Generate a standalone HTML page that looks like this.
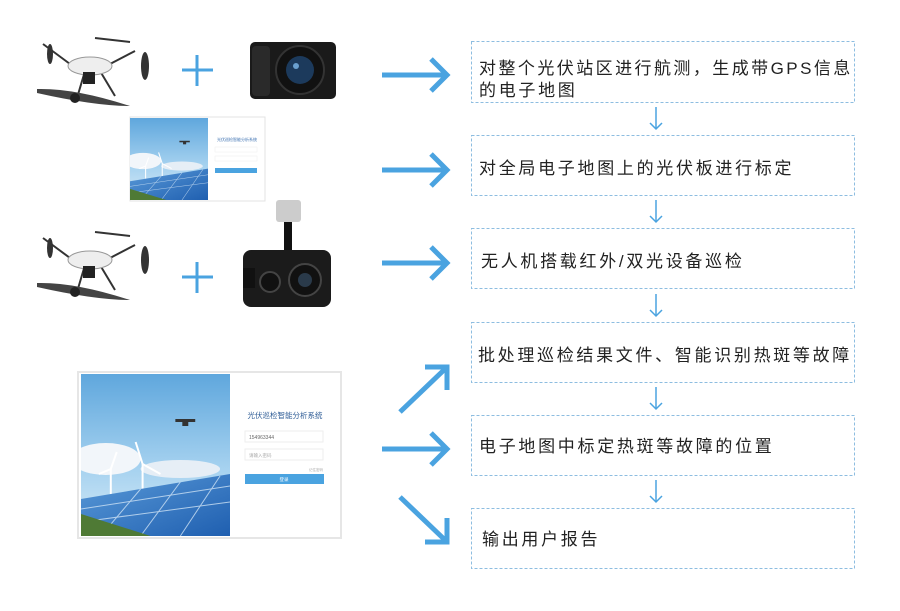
<!DOCTYPE html>
<html><head><meta charset="utf-8"><style>
html,body{margin:0;padding:0;background:#fff;}
svg{display:block;}
.t{font-family:"Liberation Sans","Noto Sans CJK SC",sans-serif;font-size:17px;fill:#222;letter-spacing:2.7px;}
</style></head><body>
<svg width="900" height="611" viewBox="0 0 900 611" xmlns="http://www.w3.org/2000/svg">
<defs>
<linearGradient id="sky" x1="0" y1="0" x2="0" y2="1"><stop offset="0" stop-color="#5fa7dd"/><stop offset="0.6" stop-color="#a8d3f0"/><stop offset="1" stop-color="#d8ebf6"/></linearGradient>
<linearGradient id="pan" x1="0" y1="0" x2="1" y2="1"><stop offset="0" stop-color="#5a9ad8"/><stop offset="1" stop-color="#1f5fb0"/></linearGradient>
<symbol id="photo" viewBox="0 0 150 162" preserveAspectRatio="none">
<rect width="150" height="162" fill="url(#sky)"/>
<ellipse cx="25" cy="85" rx="35" ry="16" fill="#f2f6fa"/>
<ellipse cx="100" cy="95" rx="40" ry="9" fill="#e6eef6"/>
<g stroke="#fff" stroke-width="2"><line x1="30" y1="120" x2="30" y2="95"/><line x1="62" y1="118" x2="62" y2="90"/><line x1="62" y1="90" x2="55" y2="68"/><line x1="62" y1="90" x2="80" y2="100"/><line x1="30" y1="95" x2="18" y2="100"/><line x1="30" y1="95" x2="36" y2="78"/></g>
<polygon points="0,125 150,100 150,162 0,162" fill="url(#pan)"/>
<g stroke="#cfe3f5" stroke-width="1" opacity="0.8"><line x1="0" y1="135" x2="150" y2="112"/><line x1="0" y1="148" x2="150" y2="128"/><line x1="20" y1="162" x2="60" y2="115"/><line x1="60" y1="162" x2="100" y2="108"/><line x1="100" y1="162" x2="140" y2="102"/></g>
<polygon points="0,140 70,162 0,162" fill="#4f7a35"/>
<g fill="#333"><rect x="95" y="45" width="20" height="3"/><rect x="102" y="47" width="6" height="5"/></g>
</symbol>
<symbol id="drone" viewBox="0 0 125 75">
<g stroke="#333" stroke-width="2" fill="none"><line x1="8" y1="8" x2="35" y2="28"/><line x1="100" y1="15" x2="75" y2="28"/><line x1="50" y1="35" x2="42" y2="62"/><line x1="65" y1="35" x2="80" y2="60"/></g>
<ellipse cx="55" cy="30" rx="22" ry="9" fill="#eee" stroke="#999"/>
<rect x="48" y="36" width="12" height="12" fill="#222"/>
<path d="M2 53 Q40 52 95 70 Q60 70 2 57 Z" fill="#444"/>
<line x1="60" y1="2" x2="95" y2="6" stroke="#333" stroke-width="2"/>
<ellipse cx="110" cy="30" rx="4" ry="14" fill="#333"/>
<ellipse cx="15" cy="18" rx="3" ry="10" fill="#333"/>
<circle cx="40" cy="62" r="5" fill="#222"/>
</symbol>
</defs>

<use href="#drone" x="35" y="36" width="125" height="75"/>
<g stroke="#4aa3e0" stroke-width="3"><line x1="182" y1="70" x2="213" y2="70"/><line x1="197" y1="55" x2="197" y2="86"/></g>
<g>
<rect x="250" y="42" width="86" height="57" rx="5" fill="#1a1a1a"/>
<rect x="252" y="46" width="18" height="50" rx="4" fill="#2a2a2a"/>
<circle cx="300" cy="70" r="24" fill="#111" stroke="#333" stroke-width="2"/>
<circle cx="300" cy="70" r="14" fill="#1c3a5c"/>
<circle cx="296" cy="66" r="3" fill="#6aa0d0"/>
</g>
<rect x="130" y="117" width="135" height="84" fill="#fff" stroke="#e3e3e3"/>
<use href="#photo" x="130" y="118" width="78" height="82"/>
<text x="237" y="141" font-size="4" fill="#3a6fb0" text-anchor="middle" font-family="Liberation Sans,Noto Sans CJK SC,sans-serif">光伏巡检智能分析系统</text>
<rect x="215" y="147" width="42" height="5" fill="#fff" stroke="#eee" stroke-width="0.5"/>
<rect x="215" y="156" width="42" height="5" fill="#fff" stroke="#eee" stroke-width="0.5"/>
<rect x="215" y="168" width="42" height="5" fill="#4aa3e0"/>

<use href="#drone" x="35" y="230" width="125" height="75"/>
<g stroke="#4aa3e0" stroke-width="3"><line x1="182" y1="277" x2="213" y2="277"/><line x1="197" y1="262" x2="197" y2="293"/></g>
<g>
<rect x="276" y="200" width="25" height="22" rx="3" fill="#ccc"/>
<rect x="284" y="222" width="8" height="30" fill="#111"/>
<rect x="243" y="250" width="88" height="57" rx="8" fill="#1b1b1b"/>
<rect x="243" y="268" width="12" height="20" fill="#111"/>
<circle cx="270" cy="282" r="10" fill="#111" stroke="#444" stroke-width="2"/>
<circle cx="305" cy="280" r="16" fill="#111" stroke="#444" stroke-width="2"/>
<circle cx="305" cy="280" r="7" fill="#2a3a4a"/>
</g>

<rect x="78" y="372" width="263" height="166" fill="#fff" stroke="#e6e6e6" stroke-width="2"/>
<use href="#photo" x="81" y="374" width="149" height="162"/>
<text x="285" y="418" font-size="7.5" fill="#2e5c96" text-anchor="middle" font-family="Liberation Sans,Noto Sans CJK SC,sans-serif">光伏巡检智能分析系统</text>
<rect x="245" y="431" width="78" height="11" fill="#fff" stroke="#eee"/>
<text x="249" y="439" font-size="5" fill="#666" font-family="Liberation Sans,sans-serif">154963344</text>
<rect x="245" y="449" width="78" height="11" fill="#fff" stroke="#eee"/>
<text x="249" y="457" font-size="4.5" fill="#aaa" font-family="Liberation Sans,Noto Sans CJK SC,sans-serif">请输入密码</text>
<text x="323" y="471" font-size="3.5" fill="#aaa" text-anchor="end" font-family="Liberation Sans,Noto Sans CJK SC,sans-serif">记住密码</text>
<rect x="245" y="474" width="79" height="10" fill="#4aa3e0"/>
<text x="284" y="481" font-size="4.5" fill="#fff" text-anchor="middle" font-family="Liberation Sans,Noto Sans CJK SC,sans-serif">登录</text>

<g stroke="#4aa3e0" stroke-width="5" fill="none" stroke-linecap="butt">
<line x1="382" y1="75" x2="446" y2="75"/><polyline points="431,59 447,75 431,91"/>
<line x1="382" y1="170" x2="446" y2="170"/><polyline points="431,154 447,170 431,186"/>
<line x1="382" y1="263" x2="446" y2="263"/><polyline points="431,247 447,263 431,279"/>
<line x1="400" y1="412" x2="445" y2="369"/><polyline points="425,367 447,367 447,390"/>
<line x1="382" y1="449" x2="446" y2="449"/><polyline points="431,433 447,449 431,465"/>
<line x1="400" y1="497" x2="445" y2="540"/><polyline points="447,518 447,542 425,542"/>
</g>

<g fill="none" stroke="#8dbde0" stroke-width="1" stroke-dasharray="3,2">
<rect x="471.5" y="41.5" width="383" height="61"/>
<rect x="471.5" y="135.5" width="383" height="60"/>
<rect x="471.5" y="228.5" width="383" height="60"/>
<rect x="471.5" y="322.5" width="383" height="60"/>
<rect x="471.5" y="415.5" width="383" height="60"/>
<rect x="471.5" y="508.5" width="383" height="60"/>
</g>
<g stroke="#4aa3e0" stroke-width="1.5" fill="none">
<line x1="656" y1="107" x2="656" y2="129"/><polyline points="650,123 656,129 662,123"/>
<line x1="656" y1="200" x2="656" y2="222"/><polyline points="650,216 656,222 662,216"/>
<line x1="656" y1="294" x2="656" y2="316"/><polyline points="650,310 656,316 662,310"/>
<line x1="656" y1="387" x2="656" y2="409"/><polyline points="650,403 656,409 662,403"/>
<line x1="656" y1="480" x2="656" y2="502"/><polyline points="650,496 656,502 662,496"/>
</g>
<text class="t" x="479" y="74" textLength="374">对整个光伏站区进行航测，生成带GPS信息</text>
<text class="t" x="479" y="96">的电子地图</text>
<text class="t" x="479" y="174">对全局电子地图上的光伏板进行标定</text>
<text class="t" x="481" y="267">无人机搭载红外/双光设备巡检</text>
<text class="t" x="478" y="361" textLength="374">批处理巡检结果文件、智能识别热斑等故障</text>
<text class="t" x="479" y="452">电子地图中标定热斑等故障的位置</text>
<text class="t" x="482" y="545">输出用户报告</text>
</svg>
</body></html>
